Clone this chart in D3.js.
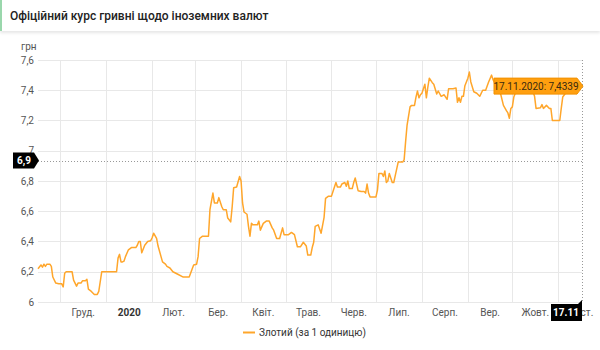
<!DOCTYPE html>
<meta charset="utf-8">
<head>
    <title>Курс злотого</title>
    <style>
        html, body {
            margin: 0;
            width: 600px;
            height: 350px;
            background: #fff;
            overflow: hidden;
        }
        body {
            font-family: Roboto, "Noto Sans", sans-serif;
            color: #333;
            position: relative;
        }
        #head {
            position: absolute;
            left: 0; top: 0;
            width: 600px; height: 31px;
            border-left: 2px solid #9ad7ac;
            box-sizing: border-box;
            box-shadow: 0 2px 3px rgba(0,0,0,0.10);
            background: #fff;
        }
        #head span {
            position: absolute;
            left: 8px; top: 9px;
            font-size: 12px;
            font-weight: 500;
            color: #222;
        }
        svg { position: absolute; left: 0; top: 0; }
        .grid line { stroke: #e8e8e8; stroke-width: 1; }
        .tick-y, .tick-x { font-size: 10px; fill: #555; }
    </style>
</head>
<body>
    <div id="head"><span>Офіційний курс гривні щодо іноземних валют</span></div>
    <svg id="chart" width="600" height="350"></svg>
    <script src="https://cdn.jsdelivr.net/npm/d3@7"></script>
    <script>
        // курс злотого, грн за 1 одиницю
        const dates = [
            '2019-11-16','2019-11-18','2019-11-19','2019-11-20','2019-11-21','2019-11-22','2019-11-24','2019-11-25','2019-11-26','2019-11-28',
            '2019-11-30','2019-12-02','2019-12-03','2019-12-04','2019-12-05','2019-12-09','2019-12-10','2019-12-12','2019-12-13','2019-12-15',
            '2019-12-16','2019-12-18','2019-12-19','2019-12-20','2019-12-22','2019-12-24','2019-12-26','2019-12-27','2019-12-29','2020-01-08',
            '2020-01-09','2020-01-10','2020-01-11','2020-01-12','2020-01-13','2020-01-14','2020-01-16','2020-01-18','2020-01-21','2020-01-22',
            '2020-01-23','2020-01-24','2020-01-25','2020-01-26','2020-01-27','2020-01-29','2020-01-31','2020-02-01','2020-02-02','2020-02-04',
            '2020-02-05','2020-02-07','2020-02-08','2020-02-10','2020-02-11','2020-02-13','2020-02-15','2020-02-18','2020-02-22','2020-02-26',
            '2020-02-29','2020-03-02','2020-03-03','2020-03-04','2020-03-06','2020-03-10','2020-03-11','2020-03-13','2020-03-14','2020-03-16',
            '2020-03-17','2020-03-19','2020-03-20','2020-03-22','2020-03-23','2020-03-25','2020-03-26','2020-03-27','2020-03-29','2020-03-31',
            '2020-04-01','2020-04-02','2020-04-03','2020-04-05','2020-04-06','2020-04-07','2020-04-08','2020-04-09','2020-04-12','2020-04-13',
            '2020-04-14','2020-04-16','2020-04-18','2020-04-20','2020-04-22','2020-04-23','2020-04-25','2020-04-27','2020-04-28','2020-04-29',
            '2020-04-30','2020-05-03','2020-05-05','2020-05-07','2020-05-09','2020-05-11','2020-05-13','2020-05-15','2020-05-16','2020-05-18',
            '2020-05-19','2020-05-20','2020-05-21','2020-05-23','2020-05-25','2020-05-27','2020-05-28','2020-05-30','2020-06-01','2020-06-02',
            '2020-06-04','2020-06-05','2020-06-07','2020-06-08','2020-06-10','2020-06-11','2020-06-12','2020-06-13','2020-06-15','2020-06-16',
            '2020-06-17','2020-06-19','2020-06-21','2020-06-23','2020-06-24','2020-06-25','2020-06-26','2020-06-27','2020-07-01','2020-07-02',
            '2020-07-03','2020-07-05','2020-07-06','2020-07-07','2020-07-08','2020-07-09','2020-07-10','2020-07-12','2020-07-13','2020-07-14',
            '2020-07-15','2020-07-16','2020-07-19','2020-07-20','2020-07-21','2020-07-22','2020-07-24','2020-07-25','2020-07-27','2020-07-28',
            '2020-07-29','2020-07-30','2020-07-31','2020-08-01','2020-08-03','2020-08-04','2020-08-05','2020-08-06','2020-08-08','2020-08-09',
            '2020-08-11','2020-08-12','2020-08-14','2020-08-16','2020-08-18','2020-08-19','2020-08-22','2020-08-24','2020-08-25','2020-08-26',
            '2020-08-27','2020-08-28','2020-08-29','2020-08-30','2020-09-01','2020-09-02','2020-09-03','2020-09-05','2020-09-07','2020-09-09',
            '2020-09-11','2020-09-13','2020-09-15','2020-09-17','2020-09-18','2020-09-20','2020-09-23','2020-09-25','2020-09-27','2020-09-28',
            '2020-09-29','2020-09-30','2020-10-01','2020-10-02','2020-10-05','2020-10-10','2020-10-14','2020-10-16','2020-10-17','2020-10-20',
            '2020-10-21','2020-10-22','2020-10-24','2020-10-26','2020-10-27','2020-10-28','2020-11-01','2020-11-02','2020-11-03','2020-11-04',
            '2020-11-08','2020-11-12','2020-11-17'
        ];
        const rates = [
            6.22, 6.245, 6.23, 6.25, 6.235, 6.25, 6.25, 6.235, 6.165, 6.125,
            6.12, 6.12, 6.10, 6.19, 6.20, 6.20, 6.145, 6.105, 6.125, 6.125,
            6.14, 6.14, 6.15, 6.085, 6.07, 6.05, 6.05, 6.07, 6.20, 6.20,
            6.29, 6.315, 6.265, 6.265, 6.27, 6.30, 6.345, 6.36, 6.36, 6.375,
            6.40, 6.40, 6.325, 6.35, 6.375, 6.40, 6.405, 6.425, 6.455, 6.42,
            6.37, 6.30, 6.265, 6.25, 6.235, 6.225, 6.20, 6.185, 6.165, 6.165,
            6.245, 6.25, 6.30, 6.42, 6.435, 6.435, 6.61, 6.72, 6.655, 6.655,
            6.69, 6.63, 6.61, 6.61, 6.555, 6.53, 6.63, 6.755, 6.76, 6.83,
            6.80, 6.655, 6.595, 6.58, 6.50, 6.435, 6.52, 6.51, 6.51, 6.535,
            6.475, 6.52, 6.535, 6.535, 6.49, 6.475, 6.42, 6.42, 6.455, 6.49,
            6.445, 6.445, 6.46, 6.445, 6.365, 6.365, 6.395, 6.37, 6.31, 6.31,
            6.36, 6.395, 6.50, 6.51, 6.455, 6.56, 6.685, 6.70, 6.70, 6.73,
            6.79, 6.76, 6.76, 6.78, 6.79, 6.765, 6.80, 6.75, 6.75, 6.79,
            6.82, 6.735, 6.73, 6.73, 6.72, 6.78, 6.72, 6.695, 6.695, 6.74,
            6.85, 6.85, 6.83, 6.866, 6.79, 6.80, 6.85, 6.79, 6.79, 6.835,
            6.88, 6.925, 6.925, 6.94, 7.06, 7.17, 7.29, 7.30, 7.30, 7.355,
            7.395, 7.35, 7.37, 7.38, 7.44, 7.35, 7.42, 7.48, 7.45, 7.44,
            7.375, 7.395, 7.36, 7.37, 7.34, 7.41, 7.41, 7.415, 7.32, 7.35,
            7.32, 7.36, 7.36, 7.43, 7.48, 7.52, 7.455, 7.39, 7.38, 7.36,
            7.40, 7.40, 7.455, 7.50, 7.47, 7.43, 7.38, 7.30, 7.265, 7.25,
            7.215, 7.28, 7.29, 7.355, 7.43, 7.45, 7.42, 7.36, 7.28, 7.285,
            7.305, 7.28, 7.30, 7.28, 7.28, 7.20, 7.20, 7.20, 7.28, 7.355,
            7.41, 7.42, 7.4339
        ];
        const yTicks = [6, 6.2, 6.4, 6.6, 6.8, 7, 7.2, 7.4, 7.6];
        const monthLabels = ['Груд.', '2020', 'Лют.', 'Бер.', 'Квіт.', 'Трав.', 'Черв.', 'Лип.', 'Серп.', 'Вер.', 'Жовт.', 'Лист.'];
        const seriesName = 'Злотий (за 1 одиницю)';
        const hoverValue = 6.935;   // положення курсора по осі Y

        const parse = d3.timeParse('%Y-%m-%d');
        const data = dates.map((d, i) => ({ date: parse(d), value: rates[i] }));
        const comma = v => String(Math.round(v * 10) / 10).replace('.', ',');

        const plotL = 38, plotR = 582, plotT = 60, plotB = 302;
        const x = d3.scaleTime()
            .domain([parse('2019-11-16'), parse('2020-11-17')])
            .range([plotL, plotR]);
        const y = d3.scaleLinear().domain([6, 7.6]).range([plotB, plotT]);

        const svg = d3.select('#chart');

        // сітка
        const grid = svg.append('g').attr('class', 'grid');
        const months = d3.timeMonth.range(parse('2019-12-01'), parse('2020-12-01'));
        grid.selectAll('line.h').data(yTicks).enter().append('line')
            .attr('x1', plotL).attr('x2', plotR)
            .attr('y1', d => Math.round(y(d)) + 0.5).attr('y2', d => Math.round(y(d)) + 0.5);
        grid.selectAll('line.v').data(months).enter().append('line')
            .attr('y1', plotT).attr('y2', plotB)
            .attr('x1', d => Math.round(x(d)) + 0.5).attr('x2', d => Math.round(x(d)) + 0.5);

        svg.append('text').attr('class', 'tick-y')
            .attr('x', 21).attr('y', 50).text('грн');

        svg.selectAll('text.ty').data(yTicks).enter().append('text')
            .attr('class', 'tick-y')
            .attr('x', 34).attr('y', d => y(d) + 3.5)
            .attr('text-anchor', 'end')
            .text(comma);

        svg.selectAll('text.tx').data(months).enter().append('text')
            .attr('class', 'tick-x')
            .attr('x', d => (x(d) + x(d3.timeMonth.offset(d, 1))) / 2)
            .attr('y', 316)
            .attr('text-anchor', 'middle')
            .style('font-weight', (d, i) => i === 1 ? 'bold' : null)
            .style('fill', (d, i) => i === 1 ? '#333' : null)
            .text((d, i) => monthLabels[i]);

        // перехрестя
        svg.append('line')
            .attr('x1', plotL).attr('x2', plotR)
            .attr('y1', Math.round(y(hoverValue)) + 0.5).attr('y2', Math.round(y(hoverValue)) + 0.5)
            .attr('stroke', '#999').attr('stroke-dasharray', '1,2');
        svg.append('line')
            .attr('x1', plotR + 0.5).attr('x2', plotR + 0.5)
            .attr('y1', plotT).attr('y2', plotB)
            .attr('stroke', '#999').attr('stroke-dasharray', '1,2');

        // лінія
        const line = d3.line().x(d => x(d.date)).y(d => y(d.value));
        svg.append('path')
            .datum(data)
            .attr('fill', 'none')
            .attr('stroke', '#ffa62b')
            .attr('stroke-width', 1.5)
            .attr('stroke-linejoin', 'round')
            .attr('d', line);

        // мітка на осі Y
        const yl = y(hoverValue);
        svg.append('path')
            .attr('d', `M13,${yl - 8}H34L39,${yl}L34,${yl + 8}H13Z`)
            .attr('fill', '#000');
        svg.append('text')
            .attr('x', 24).attr('y', yl + 3.5)
            .attr('text-anchor', 'middle')
            .attr('fill', '#fff').attr('font-size', 10).attr('font-weight', 'bold')
            .text(comma(hoverValue));

        // мітка на осі X
        const last = data[data.length - 1];
        const xl = x(last.date);
        svg.append('path')
            .attr('d', `M${xl - 31},304H${xl - 4}L${xl},300V321H${xl - 31}Z`)
            .attr('fill', '#000');
        svg.append('text')
            .attr('x', xl - 16).attr('y', 316)
            .attr('text-anchor', 'middle')
            .attr('fill', '#fff').attr('font-size', 10).attr('font-weight', 'bold')
            .text(d3.timeFormat('%d.%m')(last.date));

        // підказка
        const ty = y(last.value) + 1;
        svg.append('path')
            .attr('d', `M${xl - 88},${ty - 8}H${xl - 5}L${xl + 1},${ty}L${xl - 5},${ty + 8}H${xl - 88}Z`)
            .attr('fill', '#ff9f0f')
            .attr('stroke', '#f29100').attr('stroke-width', 1);
        svg.append('text')
            .attr('x', xl - 46).attr('y', ty + 3.5)
            .attr('text-anchor', 'middle')
            .attr('fill', '#3a2a10').attr('font-size', 10)
            .text(d3.timeFormat('%d.%m.%Y')(last.date) + ': ' + String(last.value).replace('.', ','));

        // легенда
        svg.append('line')
            .attr('x1', 243).attr('x2', 255)
            .attr('y1', 332.5).attr('y2', 332.5)
            .attr('stroke', '#ffa62b').attr('stroke-width', 2);
        svg.append('text')
            .attr('x', 259).attr('y', 336)
            .attr('font-size', 10).attr('fill', '#333')
            .text(seriesName);
    </script>
</body>
</html>
